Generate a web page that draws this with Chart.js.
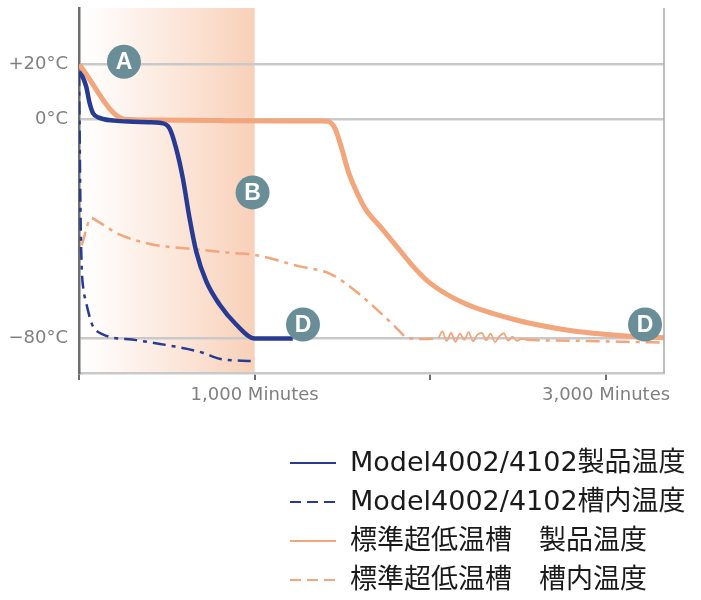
<!DOCTYPE html>
<html>
<head>
<meta charset="utf-8">
<script src="https://cdn.jsdelivr.net/npm/chart.js@4.4.1/dist/chart.umd.min.js"></script>
<style>
  body { margin: 0; background: #fff; }
</style>
</head>
<body>
<canvas id="tempChart" width="701" height="600"></canvas>
<script>
// minutes / °C
const modelProductX = [0, 20, 41, 60, 79, 117, 200, 307, 400, 459, 515, 553, 591, 629, 667, 724, 800, 895, 1000, 1100, 1217];
const modelProductY = [17.3, 15.5, 11.9, 6, 2.3, 0.5, -0.5, -0.9, -1.1, -1.3, -3.3, -10.6, -21.5, -36, -48.2, -59.1, -67.6, -74.9, -80, -80, -80];

const modelChamberX = [0, 3, 6, 10, 16, 25, 41, 60, 79, 136, 326, 516, 705, 800, 895, 1000];
const modelChamberY = [17, 0, -20, -40, -55, -62, -67, -72, -75.5, -78.5, -80.6, -82.6, -85.2, -87.4, -88, -88.3];

const stdProductX = [0, 259, 400, 800, 1200, 1380, 1418, 1457, 1495, 1533, 1571, 1628, 1723, 1817, 1912, 1997, 2187, 2472, 2757, 3137, 3330];
const stdProductY = [20, 0, -0.3, -0.5, -0.6, -0.6, -0.8, -3.3, -10.6, -19.1, -25.2, -32.5, -39.8, -47.1, -54.4, -59.7, -67, -73, -76.7, -79.2, -79.7];

const stdChamberX = [15, 70, 100, 150, 212, 404, 686, 876, 1010, 1256, 1427, 1541, 1674, 1780, 1826, 1865, 1950,
    2043, 2068, 2093, 2118, 2143, 2168, 2193, 2218, 2243, 2268, 2293, 2318, 2343, 2368, 2393, 2418, 2443, 2468, 2493, 2518, 2543,
    2800, 3100, 3330];
const stdChamberY = [-46, -36, -37, -39, -41.5, -45.5, -47.6, -48.8, -49.6, -53.7, -56.3, -61, -68.2, -74.5, -77.4, -79.7, -80.2,
    -80, -77.4, -80.9, -78, -81.2, -78.2, -80.5, -77.7, -81, -78.6, -78, -80.7, -78.2, -81.3, -79.2, -78.1, -80.8, -79.3, -80.9, -80.1, -80.4,
    -80.8, -81.2, -81.5];
const noiseFrom = 2040, noiseTo = 2545;

const seriesNames = [
    'Model4002/4102製品温度',
    'Model4002/4102槽内温度',
    '標準超低温槽　製品温度',
    '標準超低温槽　槽内温度'
];

const yTicks = [20, 0, -80];
const yLabels = ['+20°C', '0°C', '−80°C'];
const xTicks = [0, 1000, 2000, 3000];
const xLabels = ['', '1,000 Minutes', '', '3,000 Minutes'];

// circled markers: letter, minutes, °C
const markLetters = ['A', 'B', 'D', 'D'];
const markX = [256, 988, 1275, 3222];
const markY = [21, -26.7, -74.9, -74.9];

const bandFrom = 0, bandTo = 1000;

const NAVY = '#283b93';
const ORANGE = '#f3a57b';

function pts(xs, ys) {
    return xs.map((x, i) => ({ x: x, y: ys[i] }));
}

// shaded period behind everything
const bandPlugin = {
    id: 'band',
    beforeDraw(chart) {
        const { ctx, chartArea: a, scales: { x } } = chart;
        const x0 = x.getPixelForValue(bandFrom), x1 = x.getPixelForValue(bandTo);
        const g = ctx.createLinearGradient(x0, 0, x1, 0);
        g.addColorStop(0, 'rgba(249,210,188,0)');
        g.addColorStop(0.08, 'rgba(249,210,188,0.05)');
        g.addColorStop(1, 'rgba(248,208,184,1)');
        ctx.save();
        ctx.fillStyle = g;
        ctx.fillRect(x0, a.top, x1 - x0, a.bottom - a.top);
        ctx.restore();
    }
};

const markerPlugin = {
    id: 'markers',
    afterDatasetsDraw(chart) {
        const { ctx, scales: { x, y } } = chart;
        ctx.save();
        markLetters.forEach((t, i) => {
            const px = x.getPixelForValue(markX[i]), py = y.getPixelForValue(markY[i]);
            ctx.beginPath();
            ctx.arc(px, py, 17, 0, Math.PI * 2);
            ctx.fillStyle = '#6a8e97';
            ctx.fill();
            ctx.fillStyle = '#fff';
            ctx.font = 'bold 23px "Liberation Sans", Arial, sans-serif';
            ctx.textAlign = 'center';
            ctx.textBaseline = 'middle';
            ctx.fillText(t, px, py + 1);
        });
        ctx.restore();
    }
};

// right frame line + legend
const framePlugin = {
    id: 'frame',
    afterDraw(chart) {
        const { ctx, chartArea: a } = chart;
        ctx.save();
        ctx.strokeStyle = '#a9a9a9';
        ctx.lineWidth = 1.5;
        ctx.beginPath();
        ctx.moveTo(a.right, a.top);
        ctx.lineTo(a.right, a.bottom);
        ctx.stroke();

        const rowY = [463, 502, 541, 580];
        ctx.font = '27px "DejaVu Sans", "Noto Sans CJK JP", sans-serif';
        ctx.textBaseline = 'middle';
        chart.data.datasets.forEach((ds, i) => {
            ctx.strokeStyle = ds.borderColor;
            ctx.lineWidth = 2;
            ctx.setLineDash(ds.legendDash);
            ctx.beginPath();
            ctx.moveTo(290, rowY[i]);
            ctx.lineTo(336, rowY[i]);
            ctx.stroke();
            ctx.setLineDash([]);
            ctx.fillStyle = '#1a1a1a';
            ctx.fillText(ds.label, 350, rowY[i] + 1);
        });
        ctx.restore();
    }
};

new Chart(document.getElementById('tempChart'), {
    type: 'line',
    data: {
        datasets: [{
            label: seriesNames[0],
            data: pts(modelProductX, modelProductY),
            borderColor: NAVY,
            borderWidth: 4.5,
            legendDash: []
        }, {
            label: seriesNames[1],
            data: pts(modelChamberX, modelChamberY),
            borderColor: NAVY,
            borderWidth: 2.5,
            borderDash: [13, 6, 4, 6],
            legendDash: [11, 6]
        }, {
            label: seriesNames[2],
            data: pts(stdProductX, stdProductY),
            borderColor: ORANGE,
            borderWidth: 5,
            legendDash: []
        }, {
            label: seriesNames[3],
            data: pts(stdChamberX, stdChamberY),
            borderColor: ORANGE,
            borderWidth: 2.5,
            borderDash: [14, 6, 4, 6],
            legendDash: [11, 6],
            segment: {
                borderDash: c => (c.p0.parsed.x >= noiseFrom && c.p1.parsed.x <= noiseTo) ? [] : undefined,
                borderWidth: c => (c.p0.parsed.x >= noiseFrom && c.p1.parsed.x <= noiseTo) ? 1.8 : undefined
            }
        }]
    },
    options: {
        responsive: false,
        animation: false,
        cubicInterpolationMode: 'monotone',
        elements: { point: { radius: 0 } },
        layout: { padding: { top: 8, right: 37, left: 0, bottom: 0 } },
        plugins: {
            legend: { display: false },
            tooltip: { enabled: false }
        },
        scales: {
            x: {
                type: 'linear',
                min: 0,
                max: 3330,
                afterFit: s => { s.height = 227; s.paddingLeft = 0; s.paddingRight = 0; },
                afterBuildTicks: s => { s.ticks = xTicks.map(v => ({ value: v })); },
                grid: { drawOnChartArea: false, drawTicks: true, tickLength: 7, color: '#6d6d6d', lineWidth: 2 },
                border: { color: '#c9c9c9', width: 2.5 },
                ticks: {
                    maxRotation: 0,
                    autoSkip: false,
                    padding: 5,
                    color: '#808080',
                    font: { family: '"DejaVu Sans", sans-serif', size: 18 },
                    callback: (v, i) => xLabels[i]
                }
            },
            y: {
                min: -92.6,
                max: 40.6,
                afterFit: s => { s.width = 79; s.paddingTop = 0; s.paddingBottom = 0; },
                afterBuildTicks: s => { s.ticks = yTicks.map(v => ({ value: v })); },
                grid: { color: '#c9c9c9', lineWidth: 2.5, drawTicks: false },
                border: { color: '#6d6d6d', width: 2.5 },
                ticks: {
                    padding: 11,
                    color: '#808080',
                    font: { family: '"DejaVu Sans", sans-serif', size: 18 },
                    callback: (v, i) => yLabels[i]
                }
            }
        }
    },
    plugins: [bandPlugin, markerPlugin, framePlugin]
});
</script>
</body>
</html>
